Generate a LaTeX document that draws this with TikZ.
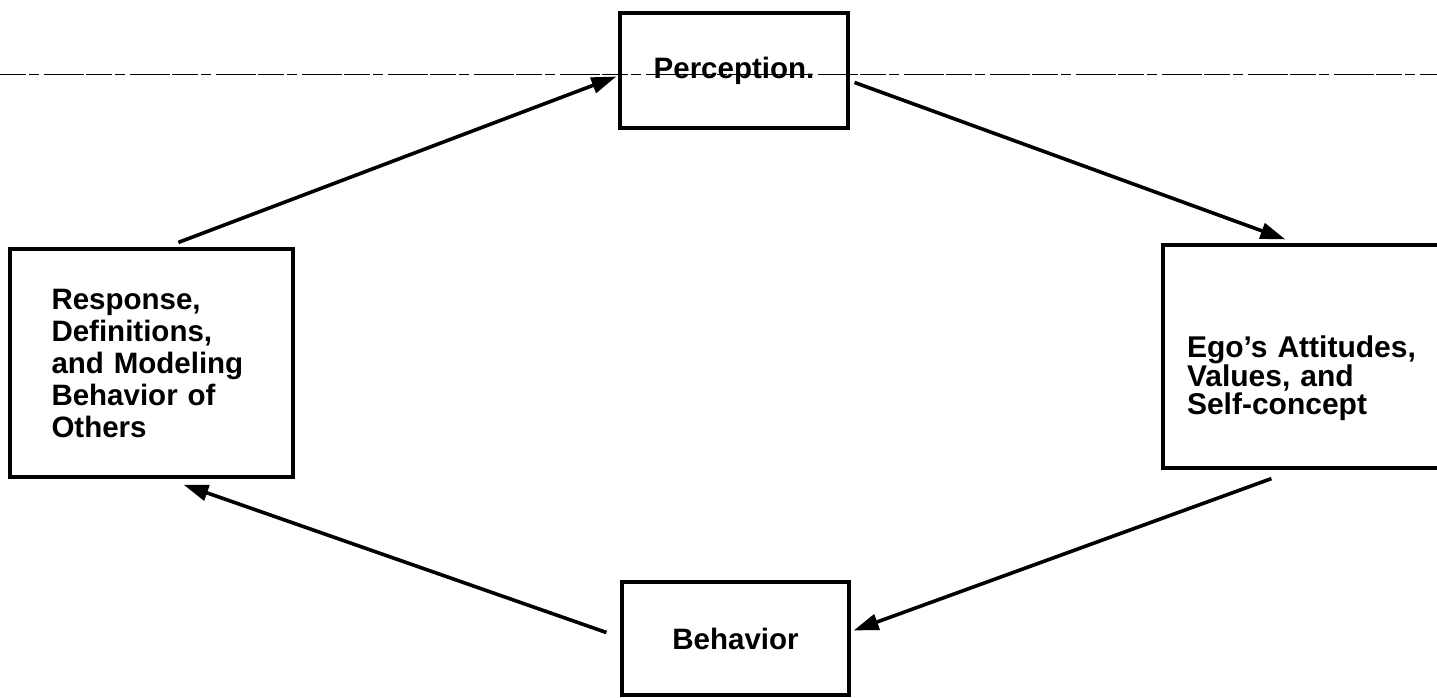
\documentclass[tikz,border=0pt]{standalone}
\usepackage{fontspec}
\setmainfont{Liberation Sans}
\usetikzlibrary{arrows.meta,calc}
\tikzset{
  boxnode/.style={draw=black, line width=3.2pt, rectangle, inner sep=0pt, align=left,
    font=\bfseries\fontsize{29.5}{32}\selectfont},
  lbl/.style={inner sep=0pt, align=left, font=\bfseries\fontsize{30}{24}\selectfont},
  arr/.style={line width=3.6pt, -{Triangle[length=25pt,width=16pt]}},
  foldline/.style={line width=1pt, dash pattern=on 26pt off 3pt on 10pt off 5pt on 40pt off 2pt}
}
\begin{document}
\begin{tikzpicture}[x=1pt,y=-1pt]
\useasboundingbox (0,0) rectangle (1437,697);
% faint horizontal line across the top
\coordinate (fl) at (0,74);
\coordinate (fr) at (1437,74);
\draw[foldline] (fl) -- (fr);
% boxes
\node[boxnode, text width=200pt, minimum width=283pt, minimum height=228pt] (resp) at (151.5,363)
  {Response,\\Definitions,\\and Modeling\\Behavior of\\Others};
\node[boxnode, minimum width=228pt, minimum height=115pt] (perc) at (734,70.5) {Perception.};
\node[boxnode, minimum width=280pt, minimum height=223pt] (ego) at (1303,356.5) {};
\node[lbl, text width=232pt] (egotext) at (1303,378) {Ego's Attitudes,\\Values, and\\Self-concept};
\node[boxnode, minimum width=227pt, minimum height=113pt] (beh) at (735.5,638.5) {Behavior};
% connectors
\draw[arr] ([xshift=170pt,yshift=5pt]resp.north west) -- ([xshift=-2pt,yshift=-6pt]perc.west);
\draw[arr] ([xshift=5pt,yshift=-12pt]perc.east) -- ([xshift=124pt,yshift=4pt]ego.north west);
\draw[arr] ([xshift=110pt,yshift=-9pt]ego.south west) -- ([xshift=3pt,yshift=8pt]beh.east);
\draw[arr] ([xshift=-14pt,yshift=6pt]beh.west) -- ([xshift=175pt,yshift=-6pt]resp.south west);
\end{tikzpicture}
\end{document}
